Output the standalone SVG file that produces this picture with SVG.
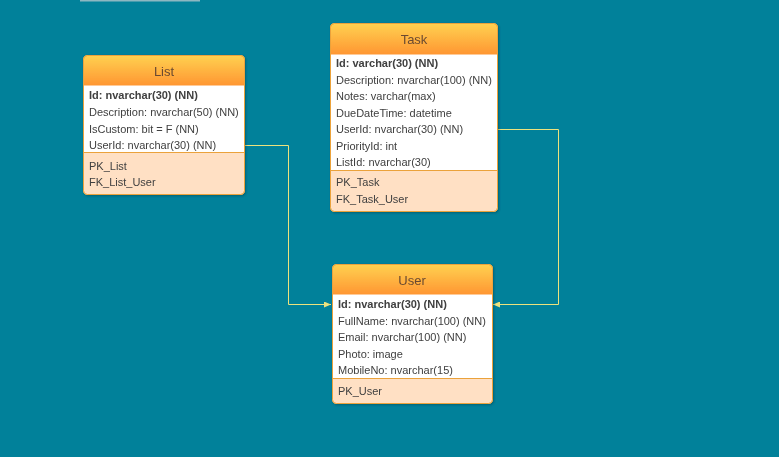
<svg xmlns="http://www.w3.org/2000/svg" width="779" height="457" viewBox="0 0 779 457">
  <style>
    .box { fill: #ffffff; stroke: #eba23a; stroke-width: 1; }
    .keys { fill: #ffe0c4; }
    .sep { stroke: #eba23a; stroke-width: 1; }
    .title { font-family: "Liberation Sans", Arial, sans-serif; font-size: 13px; fill: #6a4a30; text-anchor: middle; }
    .row { font-family: "Liberation Sans", Arial, sans-serif; font-size: 11px; fill: #404040; }
    .pk { font-weight: bold; }
    .conn { fill: none; stroke: #ece27e; stroke-width: 1; }
  </style>
  <defs>
    <linearGradient id="hdr" x1="0" y1="0" x2="0" y2="1">
      <stop offset="0" stop-color="#ffd150"/>
      <stop offset="1" stop-color="#ff9632"/>
    </linearGradient>
    <filter id="shadow" x="-10%" y="-10%" width="120%" height="120%">
      <feDropShadow dx="1" dy="1" stdDeviation="1" flood-color="#003a45" flood-opacity="0.45"/>
    </filter>
    <marker id="arrow" markerWidth="8" markerHeight="6" refX="7" refY="3" orient="auto" markerUnits="userSpaceOnUse">
      <path d="M0,0 L7,3 L0,6 Z" fill="#ece27e"/>
    </marker>
  </defs>

  <rect x="0" y="0" width="779" height="457" fill="#01819a"/>
  <rect x="80" y="0" width="120" height="1.5" fill="#8db7c1"/>

  <!-- relationship lines -->
  <g id="connectors">
    <polyline class="conn" points="245,145.5 288.5,145.5 288.5,304.5 331,304.5" marker-end="url(#arrow)"/>
    <polyline class="conn" points="498,129.5 558.5,129.5 558.5,304.5 493,304.5" marker-end="url(#arrow)"/>
  </g>

  <!-- List table -->
  <g id="list" filter="url(#shadow)">
    <rect class="box" x="83.5" y="55.5" width="161" height="139" rx="4"/>
    <path d="M83.5,152.5 H244.5 V190.5 a4,4 0 0 1 -4,4 H87.5 a4,4 0 0 1 -4,-4 Z" class="keys"/>
    <path d="M83.5,85.5 V59.5 a4,4 0 0 1 4,-4 H240.5 a4,4 0 0 1 4,4 V85.5 Z" fill="url(#hdr)"/>
    <rect x="83.5" y="55.5" width="161" height="139" rx="4" fill="none" stroke="#eba23a"/>
    <line class="sep" x1="83.5" y1="152.5" x2="244.5" y2="152.5"/>
    <text class="title" x="164" y="76">List</text>
    <text class="row pk" x="89" y="99">Id: nvarchar(30) (NN)</text>
    <text class="row" x="89" y="116">Description: nvarchar(50) (NN)</text>
    <text class="row" x="89" y="133">IsCustom: bit = F (NN)</text>
    <text class="row" x="89" y="149">UserId: nvarchar(30) (NN)</text>
    <text class="row" x="89" y="170">PK_List</text>
    <text class="row" x="89" y="186">FK_List_User</text>
  </g>

  <!-- Task table -->
  <g id="task" filter="url(#shadow)">
    <rect class="box" x="330.5" y="23.5" width="167" height="188" rx="4"/>
    <path d="M330.5,170.5 H497.5 V207.5 a4,4 0 0 1 -4,4 H334.5 a4,4 0 0 1 -4,-4 Z" class="keys"/>
    <path d="M330.5,54.5 V27.5 a4,4 0 0 1 4,-4 H493.5 a4,4 0 0 1 4,4 V54.5 Z" fill="url(#hdr)"/>
    <rect x="330.5" y="23.5" width="167" height="188" rx="4" fill="none" stroke="#eba23a"/>
    <line class="sep" x1="330.5" y1="170.5" x2="497.5" y2="170.5"/>
    <text class="title" x="414" y="44">Task</text>
    <text class="row pk" x="336" y="67">Id: varchar(30) (NN)</text>
    <text class="row" x="336" y="84">Description: nvarchar(100) (NN)</text>
    <text class="row" x="336" y="100">Notes: varchar(max)</text>
    <text class="row" x="336" y="117">DueDateTime: datetime</text>
    <text class="row" x="336" y="133">UserId: nvarchar(30) (NN)</text>
    <text class="row" x="336" y="150">PriorityId: int</text>
    <text class="row" x="336" y="166">ListId: nvarchar(30)</text>
    <text class="row" x="336" y="186">PK_Task</text>
    <text class="row" x="336" y="203">FK_Task_User</text>
  </g>

  <!-- User table -->
  <g id="user" filter="url(#shadow)">
    <rect class="box" x="332.5" y="264.5" width="160" height="139" rx="4"/>
    <path d="M332.5,378.5 H492.5 V399.5 a4,4 0 0 1 -4,4 H336.5 a4,4 0 0 1 -4,-4 Z" class="keys"/>
    <path d="M332.5,294.5 V268.5 a4,4 0 0 1 4,-4 H488.5 a4,4 0 0 1 4,4 V294.5 Z" fill="url(#hdr)"/>
    <rect x="332.5" y="264.5" width="160" height="139" rx="4" fill="none" stroke="#eba23a"/>
    <line class="sep" x1="332.5" y1="378.5" x2="492.5" y2="378.5"/>
    <text class="title" x="412" y="285">User</text>
    <text class="row pk" x="338" y="308">Id: nvarchar(30) (NN)</text>
    <text class="row" x="338" y="325">FullName: nvarchar(100) (NN)</text>
    <text class="row" x="338" y="341">Email: nvarchar(100) (NN)</text>
    <text class="row" x="338" y="358">Photo: image</text>
    <text class="row" x="338" y="374">MobileNo: nvarchar(15)</text>
    <text class="row" x="338" y="395">PK_User</text>
  </g>
</svg>
